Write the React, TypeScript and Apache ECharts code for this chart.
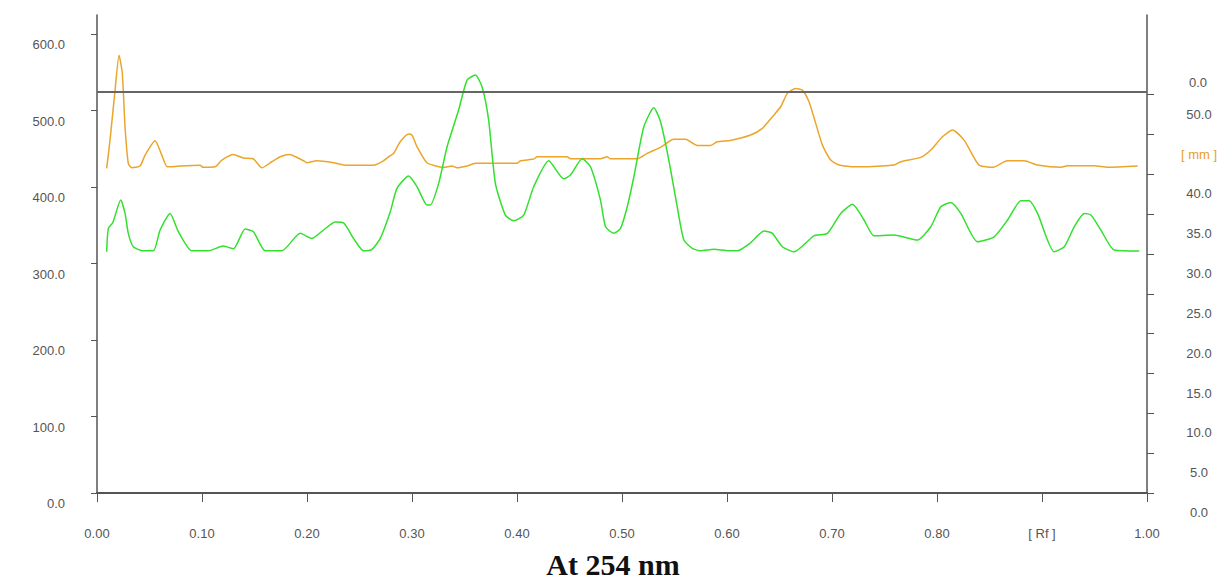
import React, { useEffect, useRef } from "react";
import * as echarts from "echarts";

// Rf positions and intensities (AU) of the orange track
const orangeRf = [0.0092,0.0124,0.0172,0.021,0.0241,0.0267,0.0298,0.0331,0.041,0.0458,0.0553,0.0617,0.067,0.0791,0.0982,0.101,0.1125,0.1189,0.1299,0.1395,0.1487,0.157,0.1665,0.1745,0.1833,0.1967,0.1999,0.2094,0.2253,0.238,0.2634,0.2729,0.2793,0.2825,0.2888,0.2968,0.3,0.3048,0.3143,0.3301,0.3381,0.3429,0.3524,0.3603,0.4001,0.4032,0.4159,0.4192,0.4478,0.4509,0.4795,0.4859,0.489,0.5145,0.524,0.5367,0.5494,0.5605,0.5717,0.5844,0.5908,0.6034,0.6225,0.6337,0.6432,0.6511,0.6575,0.6654,0.6718,0.6781,0.6845,0.6909,0.6988,0.7067,0.7242,0.7591,0.7655,0.7846,0.7941,0.8052,0.8148,0.8258,0.8322,0.8401,0.8529,0.8672,0.883,0.8958,0.918,0.9244,0.9498,0.9626,0.9911];
const orangeAU = [424.4,461.4,526.8,572.5,548.6,478.8,431.0,425.2,427.5,441.8,460.5,441.8,426.5,427.5,428.4,425.8,426.5,435.3,442.7,437.9,437.0,425.2,433.1,439.6,442.7,434.4,431.8,434.4,431.8,428.4,428.4,434.4,441.0,444.1,459.2,469.3,468.0,452.7,431.8,425.8,427.5,425.2,427.5,431.0,431.0,434.4,436.6,439.6,439.6,437.0,437.0,439.6,437.0,437.0,444.1,451.9,462.4,462.4,454.5,454.5,459.2,461.0,468.0,476.7,491.9,505.0,522.5,529.0,526.8,511.5,483.3,454.9,435.3,428.8,426.5,428.8,433.1,438.8,448.4,465.8,474.5,461.4,446.1,428.8,425.8,434.4,434.4,428.8,425.8,427.8,427.8,425.8,427.5];

// Rf positions and intensities (AU) of the green track
const greenRf = [0.0092,0.0108,0.015,0.0226,0.0267,0.0298,0.0346,0.0441,0.0537,0.0601,0.0696,0.0775,0.0903,0.1061,0.1204,0.1299,0.1411,0.149,0.1602,0.1761,0.1935,0.2047,0.2157,0.2269,0.2348,0.2443,0.2539,0.2619,0.2698,0.2793,0.2857,0.2968,0.3048,0.3143,0.3174,0.3254,0.3334,0.3444,0.3524,0.3603,0.3667,0.373,0.3794,0.3889,0.3969,0.4064,0.4159,0.4302,0.4445,0.4509,0.4621,0.47,0.4795,0.4843,0.4922,0.4986,0.505,0.5113,0.5208,0.5303,0.5367,0.5446,0.5526,0.5589,0.5669,0.5748,0.5875,0.6018,0.6098,0.6225,0.6352,0.6432,0.6527,0.6638,0.6828,0.6956,0.7083,0.7195,0.7305,0.74,0.7591,0.7814,0.7941,0.8036,0.8132,0.8227,0.8386,0.8544,0.8672,0.8799,0.8878,0.8958,0.9116,0.9212,0.9307,0.9402,0.9466,0.9561,0.9688,0.9927];
const greenAU = [315.4,346.0,353.3,383.0,365.6,339.5,322.0,316.7,316.7,343.8,365.6,341.6,316.7,316.7,322.9,319.3,345.1,341.6,316.7,316.7,339.5,332.9,343.8,354.2,353.3,332.9,316.7,318.6,332.9,367.7,398.3,414.4,400.4,376.5,376.5,404.8,452.7,500.7,539.9,546.4,531.1,487.6,404.8,363.4,356.0,363.4,400.4,434.4,410.8,415.7,437.0,426.5,383.0,348.1,339.5,346.0,374.2,413.5,478.8,503.7,485.4,435.3,374.2,330.7,319.9,316.7,318.6,316.7,316.7,327.2,342.5,339.5,322.0,315.4,336.3,339.5,365.6,377.4,356.9,336.3,337.3,330.7,348.1,374.2,380.0,365.6,328.5,335.0,356.9,382.1,382.1,365.6,315.4,322.0,348.1,365.6,363.4,343.8,317.6,316.3];

const leftTicks = [0, 100, 200, 300, 400, 500, 600];
const rightTicks = [0, 5, 10, 15, 20, 25, 30, 35, 40, 45, 50];
const solventFront = 524; // AU level of the horizontal front line
const caption = "At 254 nm";

const zip = (xs: number[], ys: number[]) => xs.map((x, i) => [x, ys[i]]);

export default function App() {
  const ref = useRef<HTMLDivElement>(null);
  useEffect(() => {
    if (!ref.current) return;
    const chart = echarts.init(ref.current, null, { renderer: "svg" });
    const labelFont = { fontFamily: "Liberation Sans", fontSize: 13, color: "#555" };
    chart.setOption({
      animation: false,
      backgroundColor: "#fff",
      grid: { left: 97, right: 79, top: 15, bottom: 92 },
      xAxis: {
        type: "value",
        min: 0,
        max: 1,
        interval: 0.1,
        axisLine: { show: true, lineStyle: { color: "#555", width: 2 } },
        axisTick: { show: true, length: 9, lineStyle: { color: "#555" } },
        splitLine: { show: false },
        axisLabel: {
          ...labelFont,
          margin: 34,
          formatter: (v: number) => (Math.abs(v - 0.9) < 1e-6 ? "[ Rf ]" : v.toFixed(2)),
        },
      },
      yAxis: [
        {
          type: "value",
          min: 0,
          max: 625,
          position: "left",
          axisLine: { show: true, lineStyle: { color: "#555", width: 1.5 } },
          axisTick: { show: true, length: 6, customValues: leftTicks, lineStyle: { color: "#555" } },
          splitLine: { show: false },
          axisLabel: {
            ...labelFont,
            customValues: leftTicks,
            margin: 32,
            verticalAlign: "top",
            padding: [4, 0, 0, 0],
            formatter: (v: number) => v.toFixed(1),
          },
        },
        {
          type: "value",
          min: 0,
          max: 60,
          position: "right",
          axisLine: { show: true, lineStyle: { color: "#555", width: 1.5 } },
          axisTick: { show: true, length: 7, customValues: rightTicks, lineStyle: { color: "#555" } },
          splitLine: { show: false },
          axisLabel: {
            ...labelFont,
            customValues: rightTicks,
            margin: 52,
            align: "center",
            verticalAlign: "top",
            padding: [13, 0, 0, 0],
            formatter: (v: number) => (v === 45 ? "{mm|[ mm ]}" : v.toFixed(1)),
            rich: { mm: { color: "#E8A020", fontFamily: "Liberation Sans", fontSize: 13 } },
          },
        },
      ],
      graphic: [
        {
          type: "text",
          left: 1189,
          top: 76,
          style: { text: "0.0", fill: "#555", font: "13px 'Liberation Sans'" },
        },
        {
          type: "text",
          left: "center",
          top: 549,
          style: { text: caption, fill: "#111", font: "bold 30px 'Liberation Serif'" },
        },
      ],
      series: [
        {
          type: "line",
          data: zip(orangeRf, orangeAU),
          yAxisIndex: 0,
          showSymbol: false,
          smooth: 0.2,
          lineStyle: { color: "#EBA52A", width: 1.5 },
          markLine: {
            silent: true,
            symbol: "none",
            label: { show: false },
            data: [{ yAxis: solventFront }],
            lineStyle: { color: "#666", width: 2, type: "solid" },
          },
        },
        {
          type: "line",
          data: zip(greenRf, greenAU),
          yAxisIndex: 0,
          showSymbol: false,
          smooth: 0.2,
          lineStyle: { color: "#33E02E", width: 1.5 },
        },
      ],
    });
    return () => chart.dispose();
  }, []);
  return (
    <div
      ref={ref}
      style={{ position: "fixed", left: 0, top: 0, width: 1226, height: 585, background: "#fff" }}
    />
  );
}
